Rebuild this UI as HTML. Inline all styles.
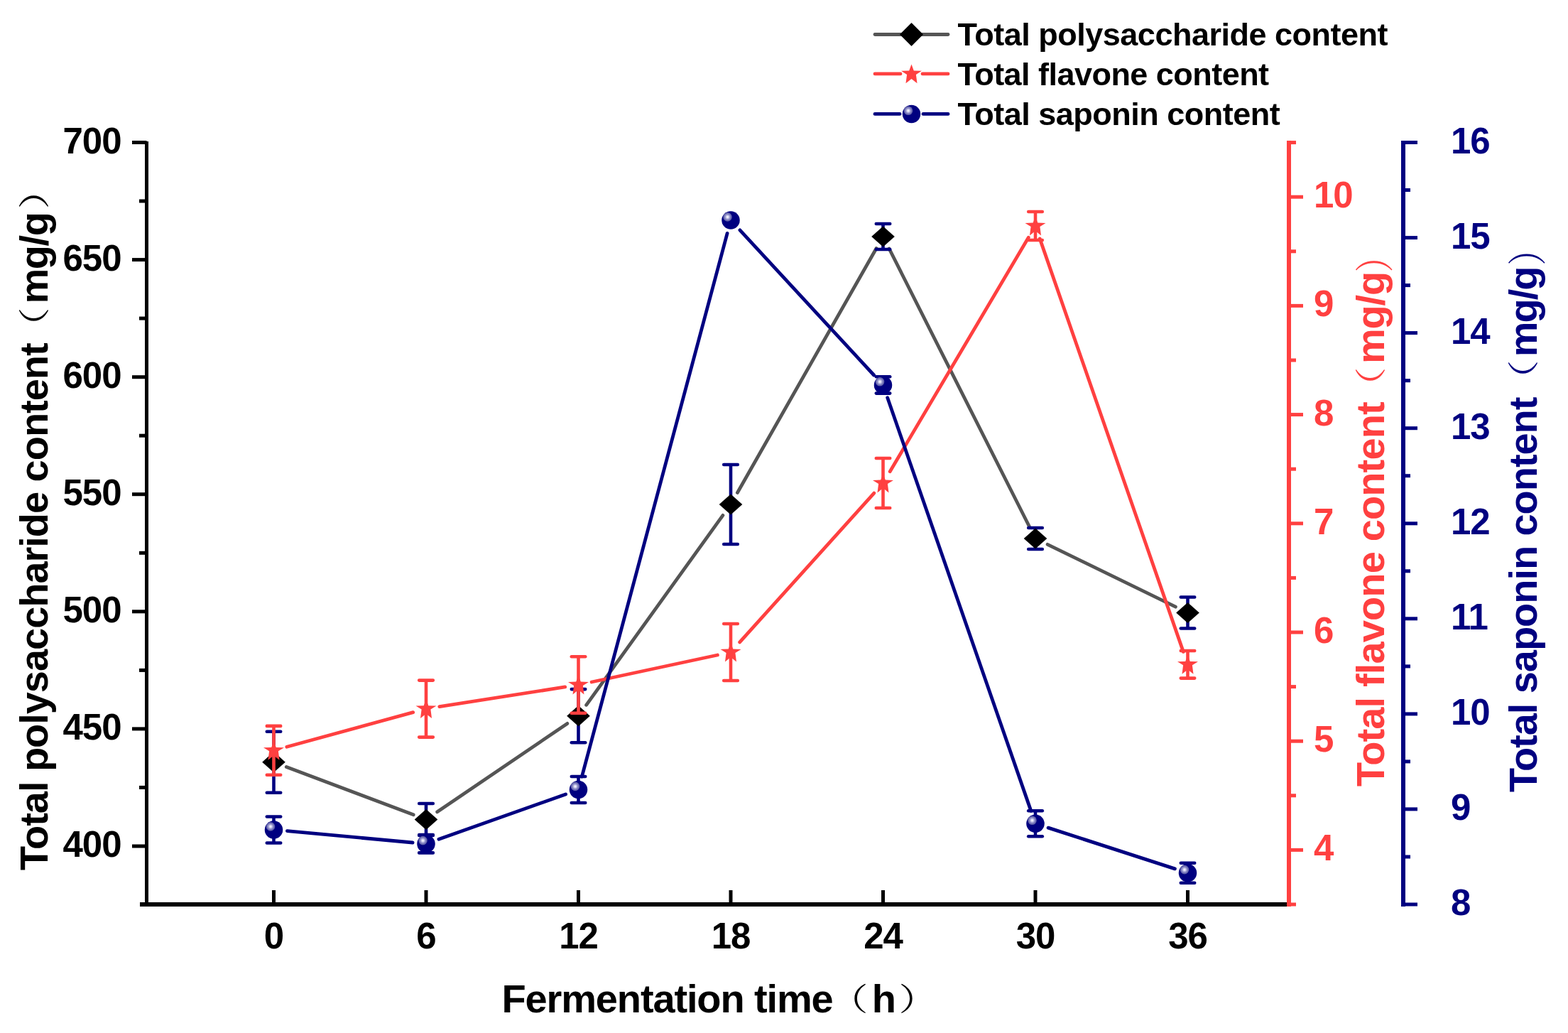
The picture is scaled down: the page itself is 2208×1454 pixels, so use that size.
<!DOCTYPE html>
<html><head><meta charset="utf-8"><title>Fermentation chart</title>
<style>html,body{margin:0;padding:0;background:#fff;}svg{display:block;}
text{font-family:"Liberation Sans", Arial, "Noto Sans CJK SC", sans-serif;font-weight:bold;}</style></head>
<body>
<svg width="2208" height="1454" viewBox="0 0 2208 1454">
<defs><radialGradient id="hl" cx="0.5" cy="0.5" r="0.5"><stop offset="0" stop-color="#ffffff"/><stop offset="0.2" stop-color="#e4e4f6"/><stop offset="0.4" stop-color="#b4b4de"/><stop offset="0.62" stop-color="#8484c2"/><stop offset="0.85" stop-color="#6666ae"/><stop offset="1" stop-color="#5252a2"/></radialGradient></defs>
<rect width="2208" height="1454" fill="#fff"/>
<line x1="206.5" y1="199.0" x2="206.5" y2="1276.0" stroke="#000" stroke-width="5" stroke-linecap="butt"/>
<line x1="186.0" y1="200.5" x2="206.5" y2="200.5" stroke="#000" stroke-width="5" stroke-linecap="butt"/>
<line x1="186.0" y1="365.6" x2="206.5" y2="365.6" stroke="#000" stroke-width="5" stroke-linecap="butt"/>
<line x1="186.0" y1="530.7" x2="206.5" y2="530.7" stroke="#000" stroke-width="5" stroke-linecap="butt"/>
<line x1="186.0" y1="695.7" x2="206.5" y2="695.7" stroke="#000" stroke-width="5" stroke-linecap="butt"/>
<line x1="186.0" y1="860.8" x2="206.5" y2="860.8" stroke="#000" stroke-width="5" stroke-linecap="butt"/>
<line x1="186.0" y1="1025.9" x2="206.5" y2="1025.9" stroke="#000" stroke-width="5" stroke-linecap="butt"/>
<line x1="186.0" y1="1191.0" x2="206.5" y2="1191.0" stroke="#000" stroke-width="5" stroke-linecap="butt"/>
<line x1="196.0" y1="283.0" x2="206.5" y2="283.0" stroke="#000" stroke-width="5" stroke-linecap="butt"/>
<line x1="196.0" y1="448.1" x2="206.5" y2="448.1" stroke="#000" stroke-width="5" stroke-linecap="butt"/>
<line x1="196.0" y1="613.2" x2="206.5" y2="613.2" stroke="#000" stroke-width="5" stroke-linecap="butt"/>
<line x1="196.0" y1="778.3" x2="206.5" y2="778.3" stroke="#000" stroke-width="5" stroke-linecap="butt"/>
<line x1="196.0" y1="943.4" x2="206.5" y2="943.4" stroke="#000" stroke-width="5" stroke-linecap="butt"/>
<line x1="196.0" y1="1108.4" x2="206.5" y2="1108.4" stroke="#000" stroke-width="5" stroke-linecap="butt"/>
<line x1="197.0" y1="1273.0" x2="1815.0" y2="1273.0" stroke="#000" stroke-width="6" stroke-linecap="butt"/>
<line x1="385.5" y1="1253.0" x2="385.5" y2="1273.0" stroke="#000" stroke-width="5" stroke-linecap="butt"/>
<line x1="600.0" y1="1253.0" x2="600.0" y2="1273.0" stroke="#000" stroke-width="5" stroke-linecap="butt"/>
<line x1="814.5" y1="1253.0" x2="814.5" y2="1273.0" stroke="#000" stroke-width="5" stroke-linecap="butt"/>
<line x1="1029.0" y1="1253.0" x2="1029.0" y2="1273.0" stroke="#000" stroke-width="5" stroke-linecap="butt"/>
<line x1="1243.5" y1="1253.0" x2="1243.5" y2="1273.0" stroke="#000" stroke-width="5" stroke-linecap="butt"/>
<line x1="1458.0" y1="1253.0" x2="1458.0" y2="1273.0" stroke="#000" stroke-width="5" stroke-linecap="butt"/>
<line x1="1672.5" y1="1253.0" x2="1672.5" y2="1273.0" stroke="#000" stroke-width="5" stroke-linecap="butt"/>
<line x1="1815.0" y1="198.0" x2="1815.0" y2="1276.0" stroke="#FF4040" stroke-width="6" stroke-linecap="butt"/>
<line x1="1815.0" y1="1196.4" x2="1835.0" y2="1196.4" stroke="#FF4040" stroke-width="5" stroke-linecap="butt"/>
<line x1="1815.0" y1="1043.2" x2="1835.0" y2="1043.2" stroke="#FF4040" stroke-width="5" stroke-linecap="butt"/>
<line x1="1815.0" y1="890.0" x2="1835.0" y2="890.0" stroke="#FF4040" stroke-width="5" stroke-linecap="butt"/>
<line x1="1815.0" y1="736.8" x2="1835.0" y2="736.8" stroke="#FF4040" stroke-width="5" stroke-linecap="butt"/>
<line x1="1815.0" y1="583.6" x2="1835.0" y2="583.6" stroke="#FF4040" stroke-width="5" stroke-linecap="butt"/>
<line x1="1815.0" y1="430.4" x2="1835.0" y2="430.4" stroke="#FF4040" stroke-width="5" stroke-linecap="butt"/>
<line x1="1815.0" y1="277.2" x2="1835.0" y2="277.2" stroke="#FF4040" stroke-width="5" stroke-linecap="butt"/>
<line x1="1815.0" y1="1273.0" x2="1825.0" y2="1273.0" stroke="#FF4040" stroke-width="5" stroke-linecap="butt"/>
<line x1="1815.0" y1="1119.8" x2="1825.0" y2="1119.8" stroke="#FF4040" stroke-width="5" stroke-linecap="butt"/>
<line x1="1815.0" y1="966.6" x2="1825.0" y2="966.6" stroke="#FF4040" stroke-width="5" stroke-linecap="butt"/>
<line x1="1815.0" y1="813.4" x2="1825.0" y2="813.4" stroke="#FF4040" stroke-width="5" stroke-linecap="butt"/>
<line x1="1815.0" y1="660.2" x2="1825.0" y2="660.2" stroke="#FF4040" stroke-width="5" stroke-linecap="butt"/>
<line x1="1815.0" y1="507.0" x2="1825.0" y2="507.0" stroke="#FF4040" stroke-width="5" stroke-linecap="butt"/>
<line x1="1815.0" y1="353.8" x2="1825.0" y2="353.8" stroke="#FF4040" stroke-width="5" stroke-linecap="butt"/>
<line x1="1815.0" y1="200.6" x2="1825.0" y2="200.6" stroke="#FF4040" stroke-width="5" stroke-linecap="butt"/>
<line x1="1976.0" y1="198.0" x2="1976.0" y2="1276.0" stroke="#000080" stroke-width="6" stroke-linecap="butt"/>
<line x1="1976.0" y1="1273.0" x2="1996.0" y2="1273.0" stroke="#000080" stroke-width="5" stroke-linecap="butt"/>
<line x1="1976.0" y1="1138.9" x2="1996.0" y2="1138.9" stroke="#000080" stroke-width="5" stroke-linecap="butt"/>
<line x1="1976.0" y1="1004.9" x2="1996.0" y2="1004.9" stroke="#000080" stroke-width="5" stroke-linecap="butt"/>
<line x1="1976.0" y1="870.8" x2="1996.0" y2="870.8" stroke="#000080" stroke-width="5" stroke-linecap="butt"/>
<line x1="1976.0" y1="736.8" x2="1996.0" y2="736.8" stroke="#000080" stroke-width="5" stroke-linecap="butt"/>
<line x1="1976.0" y1="602.7" x2="1996.0" y2="602.7" stroke="#000080" stroke-width="5" stroke-linecap="butt"/>
<line x1="1976.0" y1="468.6" x2="1996.0" y2="468.6" stroke="#000080" stroke-width="5" stroke-linecap="butt"/>
<line x1="1976.0" y1="334.6" x2="1996.0" y2="334.6" stroke="#000080" stroke-width="5" stroke-linecap="butt"/>
<line x1="1976.0" y1="200.5" x2="1996.0" y2="200.5" stroke="#000080" stroke-width="5" stroke-linecap="butt"/>
<line x1="1976.0" y1="1206.0" x2="1986.0" y2="1206.0" stroke="#000080" stroke-width="5" stroke-linecap="butt"/>
<line x1="1976.0" y1="1071.9" x2="1986.0" y2="1071.9" stroke="#000080" stroke-width="5" stroke-linecap="butt"/>
<line x1="1976.0" y1="937.9" x2="1986.0" y2="937.9" stroke="#000080" stroke-width="5" stroke-linecap="butt"/>
<line x1="1976.0" y1="803.8" x2="1986.0" y2="803.8" stroke="#000080" stroke-width="5" stroke-linecap="butt"/>
<line x1="1976.0" y1="669.7" x2="1986.0" y2="669.7" stroke="#000080" stroke-width="5" stroke-linecap="butt"/>
<line x1="1976.0" y1="535.7" x2="1986.0" y2="535.7" stroke="#000080" stroke-width="5" stroke-linecap="butt"/>
<line x1="1976.0" y1="401.6" x2="1986.0" y2="401.6" stroke="#000080" stroke-width="5" stroke-linecap="butt"/>
<line x1="1976.0" y1="267.5" x2="1986.0" y2="267.5" stroke="#000080" stroke-width="5" stroke-linecap="butt"/>
<text id="L700" x="170.5" y="215.5" fill="#000" font-size="51" text-anchor="end" letter-spacing="-1" >700</text>
<text id="L650" x="170.5" y="380.6" fill="#000" font-size="51" text-anchor="end" letter-spacing="-1" >650</text>
<text id="L600" x="170.5" y="545.7" fill="#000" font-size="51" text-anchor="end" letter-spacing="-1" >600</text>
<text id="L550" x="170.5" y="710.7" fill="#000" font-size="51" text-anchor="end" letter-spacing="-1" >550</text>
<text id="L500" x="170.5" y="875.8" fill="#000" font-size="51" text-anchor="end" letter-spacing="-1" >500</text>
<text id="L450" x="170.5" y="1040.9" fill="#000" font-size="51" text-anchor="end" letter-spacing="-1" >450</text>
<text id="L400" x="170.5" y="1206.0" fill="#000" font-size="51" text-anchor="end" letter-spacing="-1" >400</text>
<text id="X0" x="385.5" y="1335.0" fill="#000" font-size="51" text-anchor="middle" letter-spacing="-1" >0</text>
<text id="X6" x="600.0" y="1335.0" fill="#000" font-size="51" text-anchor="middle" letter-spacing="-1" >6</text>
<text id="X12" x="814.5" y="1335.0" fill="#000" font-size="51" text-anchor="middle" letter-spacing="-1" >12</text>
<text id="X18" x="1029.0" y="1335.0" fill="#000" font-size="51" text-anchor="middle" letter-spacing="-1" >18</text>
<text id="X24" x="1243.5" y="1335.0" fill="#000" font-size="51" text-anchor="middle" letter-spacing="-1" >24</text>
<text id="X30" x="1458.0" y="1335.0" fill="#000" font-size="51" text-anchor="middle" letter-spacing="-1" >30</text>
<text id="X36" x="1672.5" y="1335.0" fill="#000" font-size="51" text-anchor="middle" letter-spacing="-1" >36</text>
<text id="R4" x="1850.0" y="1211.4" fill="#FF4040" font-size="51" text-anchor="start" letter-spacing="-1" >4</text>
<text id="R5" x="1850.0" y="1058.2" fill="#FF4040" font-size="51" text-anchor="start" letter-spacing="-1" >5</text>
<text id="R6" x="1850.0" y="905.0" fill="#FF4040" font-size="51" text-anchor="start" letter-spacing="-1" >6</text>
<text id="R7" x="1850.0" y="751.8" fill="#FF4040" font-size="51" text-anchor="start" letter-spacing="-1" >7</text>
<text id="R8" x="1850.0" y="598.6" fill="#FF4040" font-size="51" text-anchor="start" letter-spacing="-1" >8</text>
<text id="R9" x="1850.0" y="445.4" fill="#FF4040" font-size="51" text-anchor="start" letter-spacing="-1" >9</text>
<text id="R10" x="1850.0" y="292.2" fill="#FF4040" font-size="51" text-anchor="start" letter-spacing="-1" >10</text>
<text id="B8" x="2043.0" y="1288.0" fill="#000080" font-size="51" text-anchor="start" letter-spacing="-1" >8</text>
<text id="B9" x="2043.0" y="1153.9" fill="#000080" font-size="51" text-anchor="start" letter-spacing="-1" >9</text>
<text id="B10" x="2043.0" y="1019.9" fill="#000080" font-size="51" text-anchor="start" letter-spacing="-1" >10</text>
<text id="B11" x="2043.0" y="885.8" fill="#000080" font-size="51" text-anchor="start" letter-spacing="-1" >11</text>
<text id="B12" x="2043.0" y="751.8" fill="#000080" font-size="51" text-anchor="start" letter-spacing="-1" >12</text>
<text id="B13" x="2043.0" y="617.7" fill="#000080" font-size="51" text-anchor="start" letter-spacing="-1" >13</text>
<text id="B14" x="2043.0" y="483.6" fill="#000080" font-size="51" text-anchor="start" letter-spacing="-1" >14</text>
<text id="B15" x="2043.0" y="349.6" fill="#000080" font-size="51" text-anchor="start" letter-spacing="-1" >15</text>
<text id="B16" x="2043.0" y="215.5" fill="#000080" font-size="51" text-anchor="start" letter-spacing="-1" >16</text>
<g transform="translate(706.4,1425)" fill="#000">
<text id="XT" x="0" y="0" font-size="56" textLength="467.3" lengthAdjust="spacing">Fermentation time</text>
<text id="XTp1" transform="translate(461,-3) scale(1.25,1)" font-size="44" style="font-family:'Noto Serif CJK SC', 'Noto Sans CJK SC', serif;font-weight:400">（</text>
<text id="XTu" x="521.3" y="0" font-size="56" textLength="33.6" lengthAdjust="spacing">h</text>
<text id="XTp2" transform="translate(559,-3) scale(1.25,1)" font-size="44" style="font-family:'Noto Serif CJK SC', 'Noto Sans CJK SC', serif;font-weight:400">）</text>
</g>
<g transform="translate(67,1225) rotate(-90)" fill="#000">
<text id="LT" x="0" y="0" font-size="56" textLength="742.6" lengthAdjust="spacing">Total polysaccharide content</text>
<text id="LTp1" transform="translate(737.6,-3) scale(1.25,1)" font-size="44" style="font-family:'Noto Serif CJK SC', 'Noto Sans CJK SC', serif;font-weight:400">（</text>
<text id="LTu" x="797.4" y="0" font-size="56" textLength="129.6" lengthAdjust="spacing">mg/g</text>
<text id="LTp2" transform="translate(930.4,-3) scale(1.25,1)" font-size="44" style="font-family:'Noto Serif CJK SC', 'Noto Sans CJK SC', serif;font-weight:400">）</text>
</g>
<g transform="translate(1948.8,1107) rotate(-90)" fill="#FF4040">
<text id="RT" x="0" y="0" font-size="56" textLength="541.7" lengthAdjust="spacing">Total flavone content</text>
<text id="RTp1" transform="translate(535.6,-3) scale(1.25,1)" font-size="44" style="font-family:'Noto Serif CJK SC', 'Noto Sans CJK SC', serif;font-weight:400">（</text>
<text id="RTu" x="595" y="0" font-size="56" textLength="130.2" lengthAdjust="spacing">mg/g</text>
<text id="RTp2" transform="translate(723.7,6) scale(0.83,1)" font-size="55" style="font-family:'Noto Serif CJK SC', 'Noto Sans CJK SC', serif;font-weight:400">）</text>
</g>
<g transform="translate(2164,1115) rotate(-90)" fill="#000080">
<text id="BT" x="0" y="0" font-size="56" textLength="556.4" lengthAdjust="spacing">Total saponin content</text>
<text id="BTp1" transform="translate(553.4,-3) scale(1.25,1)" font-size="44" style="font-family:'Noto Serif CJK SC', 'Noto Sans CJK SC', serif;font-weight:400">（</text>
<text id="BTu" x="612.8" y="0" font-size="56" textLength="127.8" lengthAdjust="spacing">mg/g</text>
<text id="BTp2" transform="translate(741.6,6) scale(0.83,1)" font-size="55" style="font-family:'Noto Serif CJK SC', 'Noto Sans CJK SC', serif;font-weight:400">）</text>
</g>
<line x1="403.3" y1="1079.4" x2="582.2" y2="1146.8" stroke="#555555" stroke-width="4.8" stroke-linecap="round"/>
<line x1="615.7" y1="1142.8" x2="798.8" y2="1018.4" stroke="#555555" stroke-width="4.8" stroke-linecap="round"/>
<line x1="825.6" y1="992.3" x2="1017.9" y2="725.4" stroke="#555555" stroke-width="4.8" stroke-linecap="round"/>
<line x1="1038.4" y1="693.5" x2="1234.1" y2="349.5" stroke="#555555" stroke-width="4.8" stroke-linecap="round"/>
<line x1="1252.1" y1="350.0" x2="1449.4" y2="741.0" stroke="#555555" stroke-width="4.8" stroke-linecap="round"/>
<line x1="1475.1" y1="766.3" x2="1655.4" y2="854.2" stroke="#555555" stroke-width="4.8" stroke-linecap="round"/>
<line x1="403.8" y1="1051.3" x2="581.7" y2="1002.6" stroke="#FF4040" stroke-width="4.8" stroke-linecap="round"/>
<line x1="618.8" y1="994.7" x2="795.7" y2="966.9" stroke="#FF4040" stroke-width="4.8" stroke-linecap="round"/>
<line x1="833.1" y1="960.0" x2="1010.4" y2="922.0" stroke="#FF4040" stroke-width="4.8" stroke-linecap="round"/>
<line x1="1041.7" y1="903.9" x2="1230.8" y2="694.1" stroke="#FF4040" stroke-width="4.8" stroke-linecap="round"/>
<line x1="1253.2" y1="663.7" x2="1448.3" y2="334.3" stroke="#FF4040" stroke-width="4.8" stroke-linecap="round"/>
<line x1="1464.2" y1="335.9" x2="1666.3" y2="917.4" stroke="#FF4040" stroke-width="4.8" stroke-linecap="round"/>
<line x1="404.4" y1="1169.7" x2="581.1" y2="1186.0" stroke="#000080" stroke-width="4.8" stroke-linecap="round"/>
<line x1="617.9" y1="1181.3" x2="796.6" y2="1117.9" stroke="#000080" stroke-width="4.8" stroke-linecap="round"/>
<line x1="819.4" y1="1093.1" x2="1024.1" y2="328.4" stroke="#000080" stroke-width="4.8" stroke-linecap="round"/>
<line x1="1041.9" y1="323.9" x2="1230.6" y2="528.0" stroke="#000080" stroke-width="4.8" stroke-linecap="round"/>
<line x1="1249.7" y1="559.8" x2="1451.8" y2="1141.4" stroke="#000080" stroke-width="4.8" stroke-linecap="round"/>
<line x1="1476.1" y1="1165.1" x2="1654.4" y2="1222.9" stroke="#000080" stroke-width="4.8" stroke-linecap="round"/>
<line x1="385.5" y1="1029.7" x2="385.5" y2="1115.7" stroke="#000080" stroke-width="4.6" stroke-linecap="butt"/>
<line x1="375.8" y1="1029.7" x2="395.2" y2="1029.7" stroke="#000080" stroke-width="4.6" stroke-linecap="round"/>
<line x1="375.8" y1="1115.7" x2="395.2" y2="1115.7" stroke="#000080" stroke-width="4.6" stroke-linecap="round"/>
<line x1="600.0" y1="1131.0" x2="600.0" y2="1176.0" stroke="#000080" stroke-width="4.6" stroke-linecap="butt"/>
<line x1="590.2" y1="1131.0" x2="609.8" y2="1131.0" stroke="#000080" stroke-width="4.6" stroke-linecap="round"/>
<line x1="590.2" y1="1176.0" x2="609.8" y2="1176.0" stroke="#000080" stroke-width="4.6" stroke-linecap="round"/>
<line x1="814.5" y1="970.1" x2="814.5" y2="1045.3" stroke="#000080" stroke-width="4.6" stroke-linecap="butt"/>
<line x1="804.8" y1="970.1" x2="824.2" y2="970.1" stroke="#000080" stroke-width="4.6" stroke-linecap="round"/>
<line x1="804.8" y1="1045.3" x2="824.2" y2="1045.3" stroke="#000080" stroke-width="4.6" stroke-linecap="round"/>
<line x1="1029.0" y1="654.0" x2="1029.0" y2="766.0" stroke="#000080" stroke-width="4.6" stroke-linecap="butt"/>
<line x1="1019.2" y1="654.0" x2="1038.8" y2="654.0" stroke="#000080" stroke-width="4.6" stroke-linecap="round"/>
<line x1="1019.2" y1="766.0" x2="1038.8" y2="766.0" stroke="#000080" stroke-width="4.6" stroke-linecap="round"/>
<line x1="1243.5" y1="315.0" x2="1243.5" y2="351.0" stroke="#000080" stroke-width="4.6" stroke-linecap="butt"/>
<line x1="1233.8" y1="315.0" x2="1253.2" y2="315.0" stroke="#000080" stroke-width="4.6" stroke-linecap="round"/>
<line x1="1233.8" y1="351.0" x2="1253.2" y2="351.0" stroke="#000080" stroke-width="4.6" stroke-linecap="round"/>
<line x1="1458.0" y1="743.0" x2="1458.0" y2="773.0" stroke="#000080" stroke-width="4.6" stroke-linecap="butt"/>
<line x1="1448.2" y1="743.0" x2="1467.8" y2="743.0" stroke="#000080" stroke-width="4.6" stroke-linecap="round"/>
<line x1="1448.2" y1="773.0" x2="1467.8" y2="773.0" stroke="#000080" stroke-width="4.6" stroke-linecap="round"/>
<line x1="1672.5" y1="840.5" x2="1672.5" y2="884.5" stroke="#000080" stroke-width="4.6" stroke-linecap="butt"/>
<line x1="1662.8" y1="840.5" x2="1682.2" y2="840.5" stroke="#000080" stroke-width="4.6" stroke-linecap="round"/>
<line x1="1662.8" y1="884.5" x2="1682.2" y2="884.5" stroke="#000080" stroke-width="4.6" stroke-linecap="round"/>
<path d="M385.5,1058.1 L401.8,1072.7 L385.5,1087.3 L369.2,1072.7Z" fill="#000"/>
<path d="M600.0,1138.9 L616.3,1153.5 L600.0,1168.1 L583.7,1153.5Z" fill="#000"/>
<path d="M814.5,993.1 L830.8,1007.7 L814.5,1022.3 L798.2,1007.7Z" fill="#000"/>
<path d="M1029.0,695.4 L1045.3,710.0 L1029.0,724.6 L1012.7,710.0Z" fill="#000"/>
<path d="M1243.5,318.4 L1259.8,333.0 L1243.5,347.6 L1227.2,333.0Z" fill="#000"/>
<path d="M1458.0,743.4 L1474.3,758.0 L1458.0,772.6 L1441.7,758.0Z" fill="#000"/>
<path d="M1672.5,847.9 L1688.8,862.5 L1672.5,877.1 L1656.2,862.5Z" fill="#000"/>
<line x1="385.5" y1="1021.9" x2="385.5" y2="1090.7" stroke="#FF4040" stroke-width="4.6" stroke-linecap="butt"/>
<line x1="375.8" y1="1021.9" x2="395.2" y2="1021.9" stroke="#FF4040" stroke-width="4.6" stroke-linecap="round"/>
<line x1="375.8" y1="1090.7" x2="395.2" y2="1090.7" stroke="#FF4040" stroke-width="4.6" stroke-linecap="round"/>
<line x1="600.0" y1="957.6" x2="600.0" y2="1037.6" stroke="#FF4040" stroke-width="4.6" stroke-linecap="butt"/>
<line x1="590.2" y1="957.6" x2="609.8" y2="957.6" stroke="#FF4040" stroke-width="4.6" stroke-linecap="round"/>
<line x1="590.2" y1="1037.6" x2="609.8" y2="1037.6" stroke="#FF4040" stroke-width="4.6" stroke-linecap="round"/>
<line x1="814.5" y1="924.2" x2="814.5" y2="1003.8" stroke="#FF4040" stroke-width="4.6" stroke-linecap="butt"/>
<line x1="804.8" y1="924.2" x2="824.2" y2="924.2" stroke="#FF4040" stroke-width="4.6" stroke-linecap="round"/>
<line x1="804.8" y1="1003.8" x2="824.2" y2="1003.8" stroke="#FF4040" stroke-width="4.6" stroke-linecap="round"/>
<line x1="1029.0" y1="878.0" x2="1029.0" y2="958.0" stroke="#FF4040" stroke-width="4.6" stroke-linecap="butt"/>
<line x1="1019.2" y1="878.0" x2="1038.8" y2="878.0" stroke="#FF4040" stroke-width="4.6" stroke-linecap="round"/>
<line x1="1019.2" y1="958.0" x2="1038.8" y2="958.0" stroke="#FF4040" stroke-width="4.6" stroke-linecap="round"/>
<line x1="1243.5" y1="645.0" x2="1243.5" y2="715.0" stroke="#FF4040" stroke-width="4.6" stroke-linecap="butt"/>
<line x1="1233.8" y1="645.0" x2="1253.2" y2="645.0" stroke="#FF4040" stroke-width="4.6" stroke-linecap="round"/>
<line x1="1233.8" y1="715.0" x2="1253.2" y2="715.0" stroke="#FF4040" stroke-width="4.6" stroke-linecap="round"/>
<line x1="1458.0" y1="298.0" x2="1458.0" y2="338.0" stroke="#FF4040" stroke-width="4.6" stroke-linecap="butt"/>
<line x1="1448.2" y1="298.0" x2="1467.8" y2="298.0" stroke="#FF4040" stroke-width="4.6" stroke-linecap="round"/>
<line x1="1448.2" y1="338.0" x2="1467.8" y2="338.0" stroke="#FF4040" stroke-width="4.6" stroke-linecap="round"/>
<line x1="1672.5" y1="916.0" x2="1672.5" y2="954.6" stroke="#FF4040" stroke-width="4.6" stroke-linecap="butt"/>
<line x1="1662.8" y1="916.0" x2="1682.2" y2="916.0" stroke="#FF4040" stroke-width="4.6" stroke-linecap="round"/>
<line x1="1662.8" y1="954.6" x2="1682.2" y2="954.6" stroke="#FF4040" stroke-width="4.6" stroke-linecap="round"/>
<polygon points="385.50,1042.80 388.80,1051.90 400.00,1052.20 391.90,1057.30 393.50,1069.70 385.50,1063.40 377.50,1069.70 379.10,1057.30 371.00,1052.20 382.20,1051.90" fill="#FF4040"/>
<polygon points="600.00,984.10 603.30,993.20 614.50,993.50 606.40,998.60 608.00,1011.00 600.00,1004.70 592.00,1011.00 593.60,998.60 585.50,993.50 596.70,993.20" fill="#FF4040"/>
<polygon points="814.50,950.50 817.80,959.60 829.00,959.90 820.90,965.00 822.50,977.40 814.50,971.10 806.50,977.40 808.10,965.00 800.00,959.90 811.20,959.60" fill="#FF4040"/>
<polygon points="1029.00,904.50 1032.30,913.60 1043.50,913.90 1035.40,919.00 1037.00,931.40 1029.00,925.10 1021.00,931.40 1022.60,919.00 1014.50,913.90 1025.70,913.60" fill="#FF4040"/>
<polygon points="1243.50,666.50 1246.80,675.60 1258.00,675.90 1249.90,681.00 1251.50,693.40 1243.50,687.10 1235.50,693.40 1237.10,681.00 1229.00,675.90 1240.20,675.60" fill="#FF4040"/>
<polygon points="1458.00,304.50 1461.30,313.60 1472.50,313.90 1464.40,319.00 1466.00,331.40 1458.00,325.10 1450.00,331.40 1451.60,319.00 1443.50,313.90 1454.70,313.60" fill="#FF4040"/>
<polygon points="1672.50,921.80 1675.80,930.90 1687.00,931.20 1678.90,936.30 1680.50,948.70 1672.50,942.40 1664.50,948.70 1666.10,936.30 1658.00,931.20 1669.20,930.90" fill="#FF4040"/>
<line x1="385.5" y1="1149.5" x2="385.5" y2="1186.5" stroke="#000080" stroke-width="4.6" stroke-linecap="butt"/>
<line x1="375.8" y1="1149.5" x2="395.2" y2="1149.5" stroke="#000080" stroke-width="4.6" stroke-linecap="round"/>
<line x1="375.8" y1="1186.5" x2="395.2" y2="1186.5" stroke="#000080" stroke-width="4.6" stroke-linecap="round"/>
<line x1="600.0" y1="1175.0" x2="600.0" y2="1200.4" stroke="#000080" stroke-width="4.6" stroke-linecap="butt"/>
<line x1="590.2" y1="1175.0" x2="609.8" y2="1175.0" stroke="#000080" stroke-width="4.6" stroke-linecap="round"/>
<line x1="590.2" y1="1200.4" x2="609.8" y2="1200.4" stroke="#000080" stroke-width="4.6" stroke-linecap="round"/>
<line x1="814.5" y1="1093.0" x2="814.5" y2="1130.0" stroke="#000080" stroke-width="4.6" stroke-linecap="butt"/>
<line x1="804.8" y1="1093.0" x2="824.2" y2="1093.0" stroke="#000080" stroke-width="4.6" stroke-linecap="round"/>
<line x1="804.8" y1="1130.0" x2="824.2" y2="1130.0" stroke="#000080" stroke-width="4.6" stroke-linecap="round"/>
<line x1="1029.0" y1="307.0" x2="1029.0" y2="313.0" stroke="#000080" stroke-width="4.6" stroke-linecap="butt"/>
<line x1="1019.2" y1="307.0" x2="1038.8" y2="307.0" stroke="#000080" stroke-width="4.6" stroke-linecap="round"/>
<line x1="1019.2" y1="313.0" x2="1038.8" y2="313.0" stroke="#000080" stroke-width="4.6" stroke-linecap="round"/>
<line x1="1243.5" y1="530.2" x2="1243.5" y2="553.6" stroke="#000080" stroke-width="4.6" stroke-linecap="butt"/>
<line x1="1233.8" y1="530.2" x2="1253.2" y2="530.2" stroke="#000080" stroke-width="4.6" stroke-linecap="round"/>
<line x1="1233.8" y1="553.6" x2="1253.2" y2="553.6" stroke="#000080" stroke-width="4.6" stroke-linecap="round"/>
<line x1="1458.0" y1="1141.3" x2="1458.0" y2="1177.3" stroke="#000080" stroke-width="4.6" stroke-linecap="butt"/>
<line x1="1448.2" y1="1141.3" x2="1467.8" y2="1141.3" stroke="#000080" stroke-width="4.6" stroke-linecap="round"/>
<line x1="1448.2" y1="1177.3" x2="1467.8" y2="1177.3" stroke="#000080" stroke-width="4.6" stroke-linecap="round"/>
<line x1="1672.5" y1="1214.7" x2="1672.5" y2="1242.7" stroke="#000080" stroke-width="4.6" stroke-linecap="butt"/>
<line x1="1662.8" y1="1214.7" x2="1682.2" y2="1214.7" stroke="#000080" stroke-width="4.6" stroke-linecap="round"/>
<line x1="1662.8" y1="1242.7" x2="1682.2" y2="1242.7" stroke="#000080" stroke-width="4.6" stroke-linecap="round"/>
<circle cx="385.5" cy="1168.0" r="12.75" fill="#000080"/>
<circle cx="381.0" cy="1163.4" r="6.3" fill="url(#hl)"/>
<circle cx="600.0" cy="1187.7" r="12.75" fill="#000080"/>
<circle cx="595.5" cy="1183.1" r="6.3" fill="url(#hl)"/>
<circle cx="814.5" cy="1111.5" r="12.75" fill="#000080"/>
<circle cx="810.0" cy="1106.9" r="6.3" fill="url(#hl)"/>
<circle cx="1029.0" cy="310.0" r="12.75" fill="#000080"/>
<circle cx="1024.5" cy="305.4" r="6.3" fill="url(#hl)"/>
<circle cx="1243.5" cy="541.9" r="12.75" fill="#000080"/>
<circle cx="1239.0" cy="537.3" r="6.3" fill="url(#hl)"/>
<circle cx="1458.0" cy="1159.3" r="12.75" fill="#000080"/>
<circle cx="1453.5" cy="1154.7" r="6.3" fill="url(#hl)"/>
<circle cx="1672.5" cy="1228.7" r="12.75" fill="#000080"/>
<circle cx="1668.0" cy="1224.1" r="6.3" fill="url(#hl)"/>
<line x1="1232.0" y1="48.5" x2="1335.0" y2="48.5" stroke="#555555" stroke-width="4.8" stroke-linecap="round"/>
<path d="M1283.5,32.0 L1300.0,48.5 L1283.5,65.0 L1267.0,48.5Z" fill="#000"/>
<line x1="1232.0" y1="103.9" x2="1268.0" y2="103.9" stroke="#FF4040" stroke-width="4.8" stroke-linecap="round"/>
<line x1="1299.0" y1="103.9" x2="1335.0" y2="103.9" stroke="#FF4040" stroke-width="4.8" stroke-linecap="round"/>
<polygon points="1283.50,90.40 1286.80,99.50 1298.00,99.80 1289.90,104.90 1291.50,117.30 1283.50,111.00 1275.50,117.30 1277.10,104.90 1269.00,99.80 1280.20,99.50" fill="#FF4040"/>
<line x1="1232.0" y1="160.4" x2="1267.0" y2="160.4" stroke="#000080" stroke-width="4.8" stroke-linecap="round"/>
<line x1="1300.0" y1="160.4" x2="1335.0" y2="160.4" stroke="#000080" stroke-width="4.8" stroke-linecap="round"/>
<circle cx="1283.5" cy="160.4" r="12.75" fill="#000080"/>
<circle cx="1279.0" cy="155.8" r="6.3" fill="url(#hl)"/>
<text id="G1" x="1348.6" y="64.3" font-size="45" textLength="605.9" lengthAdjust="spacing">Total polysaccharide content</text>
<text id="G2" x="1348.6" y="119.7" font-size="45" textLength="438.5" lengthAdjust="spacing">Total flavone content</text>
<text id="G3" x="1348.6" y="176.2" font-size="45" textLength="454.1" lengthAdjust="spacing">Total saponin content</text>
</svg>
</body></html>
